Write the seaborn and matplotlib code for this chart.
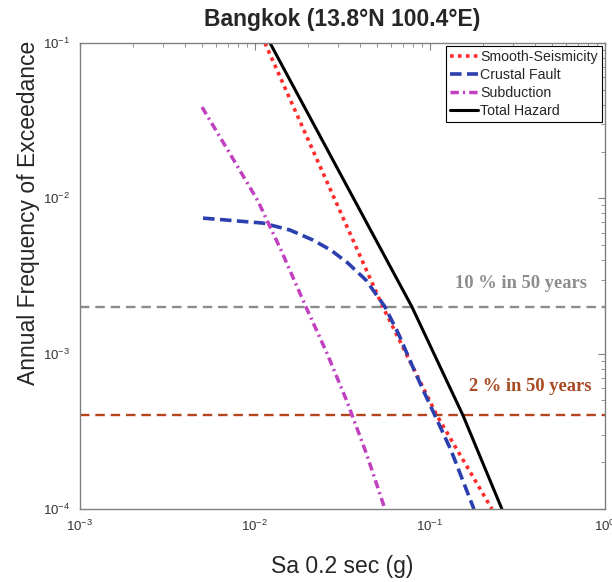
import matplotlib
matplotlib.use("Agg")
import matplotlib.pyplot as plt
import seaborn as sns
from matplotlib.ticker import LogLocator, LogFormatterSciNotation, NullFormatter

# Curvas de peligro (Sa en g, frecuencia anual)
smooth_sa = [0.0114, 0.02477, 0.0538, 0.1096, 0.226]
smooth_afe = [0.1, 0.01413, 0.002, 0.0004, 0.0001]

fault_sa = [0.00505, 0.01111, 0.01585, 0.02144, 0.02716, 0.03396, 0.04305,
            0.05534, 0.06653, 0.07889, 0.09247, 0.1068, 0.1319, 0.1783]
fault_afe = [0.00746, 0.00693, 0.00625, 0.00539, 0.00464, 0.00383, 0.00298,
             0.002, 0.00132, 0.000845, 0.000566, 0.0004, 0.000239, 0.0001]

subd_sa = [0.00498, 0.0071, 0.0104, 0.01409, 0.01955, 0.02576, 0.0335,
           0.04305, 0.0553]
subd_afe = [0.0387, 0.01986, 0.00961, 0.00464, 0.002, 0.00101, 0.000495,
            0.000232, 0.0001]

total_sa = [0.01219, 0.031, 0.0789, 0.1545, 0.2577]
total_afe = [0.1, 0.01413, 0.002, 0.0004, 0.0001]

nivel_10 = 2e-3   # 10 % en 50 años
nivel_2 = 4e-4    # 2 % en 50 años

sns.set_theme(style="white")
plt.rcParams["font.family"] = ["Liberation Sans", "DejaVu Sans"]
plt.rcParams["mathtext.default"] = "regular"
plt.rcParams["axes.unicode_minus"] = False

fig = plt.figure(figsize=(6.12, 5.82), dpi=100)
ax = fig.add_axes([0.1307, 0.1254, 0.8578, 0.8007])
ax.set_xscale("log")
ax.set_yscale("log")

sns.lineplot(x=smooth_sa, y=smooth_afe, ax=ax, color="#ff2a2a", lw=2.6,
             linestyle=(0, (1, 1.2)), label="Smooth-Seismicity")
sns.lineplot(x=fault_sa, y=fault_afe, ax=ax, color="#2b3fae", lw=2.6,
             linestyle=(0, (3.2, 1.5)), label="Crustal Fault")
sns.lineplot(x=subd_sa, y=subd_afe, ax=ax, color="#c040c0", lw=2.5,
             linestyle=(0, (2.4, 1.2, 0.6, 1.2)), label="Subduction")
sns.lineplot(x=total_sa, y=total_afe, ax=ax, color="black", lw=2.2,
             label="Total Hazard")

ax.axhline(nivel_10, color="#8c8c8c", lw=1.7, linestyle=(0, (4, 2.5)), zorder=1)
ax.axhline(nivel_2, color="#b4441c", lw=1.7, linestyle=(0, (4, 2.5)), zorder=1)
ax.text(0.966, 0.485, "10 % in 50 years", transform=ax.transAxes, ha="right",
        va="center", color="#8c8c8c", fontsize=13.3, fontweight="bold",
        family=["Liberation Serif", "DejaVu Serif"])
ax.text(0.975, 0.262, "2 % in 50 years", transform=ax.transAxes, ha="right",
        va="center", color="#a84a24", fontsize=13.3, fontweight="bold",
        family=["Liberation Serif", "DejaVu Serif"])

ax.set_xlim(1e-3, 1)
ax.set_ylim(1e-4, 1e-1)
ax.xaxis.set_major_locator(LogLocator(base=10, numticks=10))
ax.yaxis.set_major_locator(LogLocator(base=10, numticks=10))
ax.xaxis.set_minor_locator(LogLocator(base=10, subs=range(2, 10), numticks=20))
ax.yaxis.set_minor_locator(LogLocator(base=10, subs=range(2, 10), numticks=20))
ax.xaxis.set_major_formatter(LogFormatterSciNotation())
ax.yaxis.set_major_formatter(LogFormatterSciNotation())
ax.xaxis.set_minor_formatter(NullFormatter())
ax.yaxis.set_minor_formatter(NullFormatter())
ax.tick_params(which="both", direction="in", top=True, right=True,
               color="#808080", labelsize=9.5, labelcolor="#333333")
ax.tick_params(which="major", length=5, width=0.8, pad=7)
ax.tick_params(which="minor", length=3, width=0.6)
for sp in ax.spines.values():
    sp.set_color("#808080")
    sp.set_linewidth(1.0)

ax.set_title("Bangkok (13.8\u00b0N 100.4\u00b0E)", fontsize=16.5,
             fontweight="bold", pad=12)
ax.set_xlabel("Sa 0.2 sec (g)", fontsize=16.5, labelpad=15)
ax.set_ylabel("Annual Frequency of Exceedance", fontsize=16.5)
ax.yaxis.set_label_coords(-0.076, 0.635)

leg = ax.legend(loc="upper right", fontsize=10.2, frameon=True, fancybox=False,
                framealpha=1, edgecolor="black", handlelength=2.0,
                handletextpad=0.15, labelspacing=0.27, borderpad=0.3,
                borderaxespad=0.2)
leg.get_frame().set_linewidth(0.8)

fig.savefig("out.png", dpi=100)
